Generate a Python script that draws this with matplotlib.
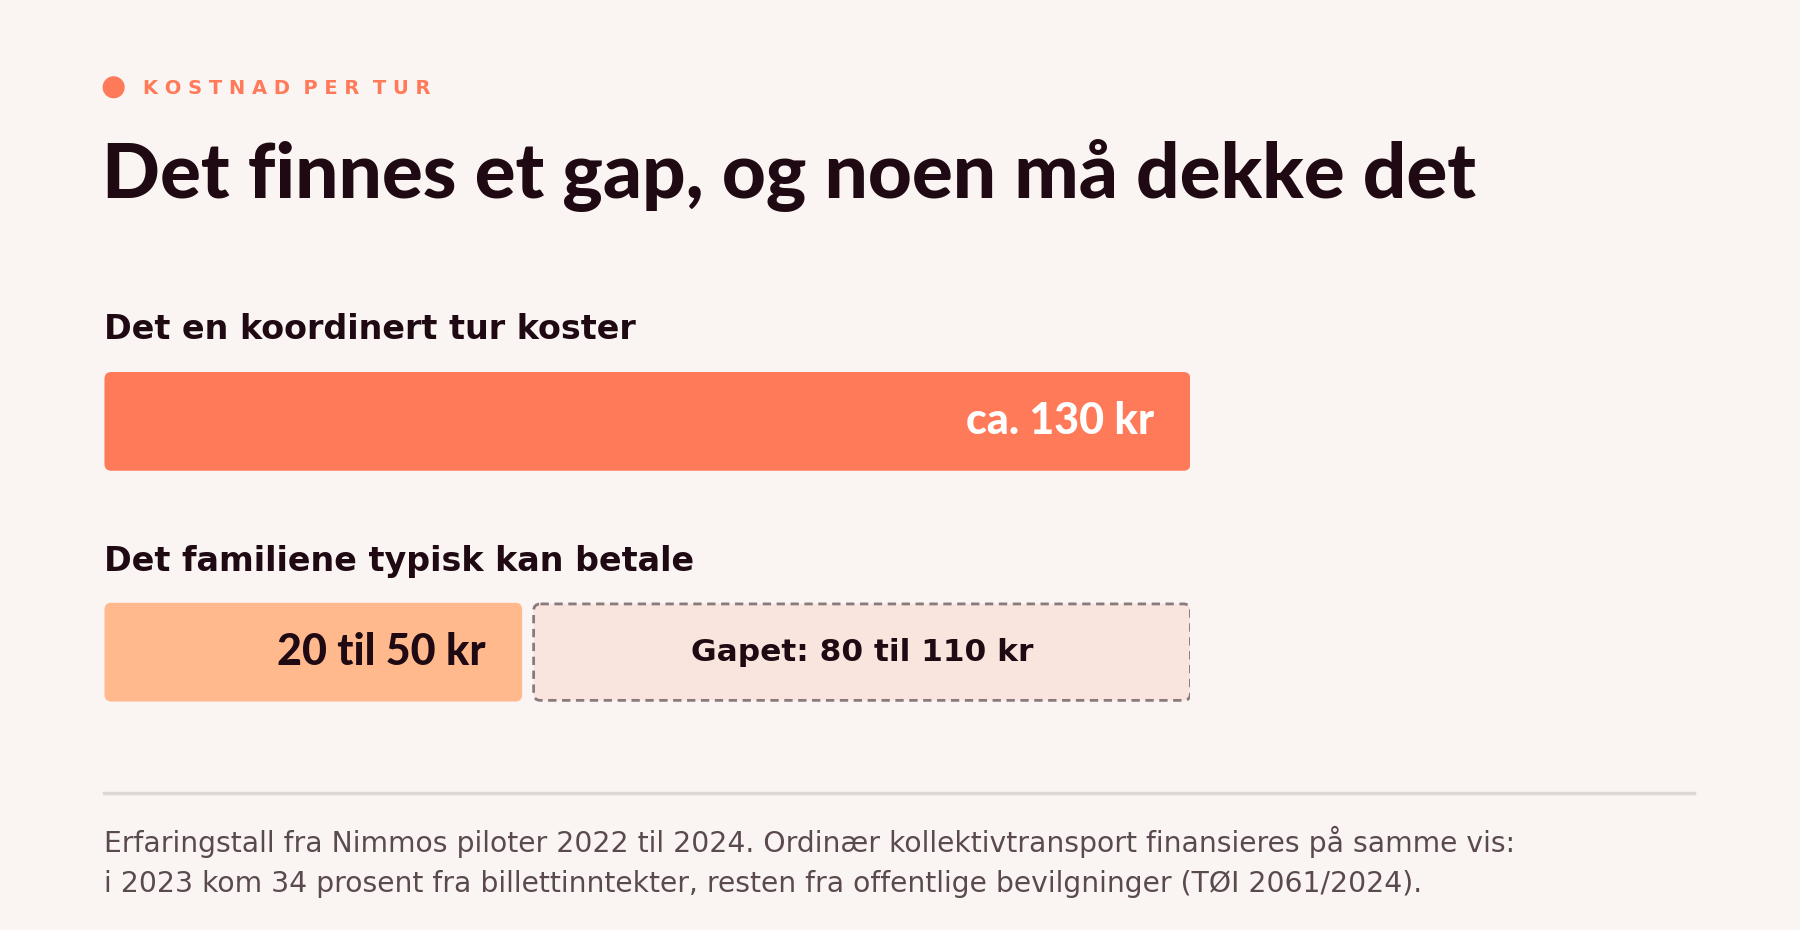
import matplotlib
matplotlib.use("Agg")
import matplotlib.pyplot as plt
from matplotlib.patches import FancyBboxPatch, Circle

kicker = "KOSTNAD PER TUR"
title = "Det finnes et gap, og noen må dekke det"
labels = ["Det en koordinert tur koster", "Det familiene typisk kan betale"]
cost = 130
pay_low, pay_high = 20, 50
gap_low, gap_high = cost - pay_high, cost - pay_low
value_texts = [f"ca. {cost} kr", f"{pay_low} til {pay_high} kr", f"Gapet: {gap_low} til {gap_high} kr"]
footer = ["Erfaringstall fra Nimmos piloter 2022 til 2024. Ordinær kollektivtransport finansieres på samme vis:",
          "i 2023 kom 34 prosent fra billettinntekter, resten fra offentlige bevilgninger (TØI 2061/2024)."]

BG = "#FAF5F2"; DARK = "#1F0A14"; ORANGE = "#FF7A59"; PEACH = "#FFB98C"
W, H = 1568, 810
fig = plt.figure(figsize=(18, 9.3), dpi=100, facecolor=BG)
ax = fig.add_axes([0, 0, 1, 1]); ax.set_xlim(0, W); ax.set_ylim(H, 0); ax.axis("off")

ax.add_patch(Circle((99, 76), 9, color=ORANGE))
ax.text(125, 77, "  ".join(" ".join(w) for w in kicker.split()), color=ORANGE, fontsize=14,
        fontweight="bold", family="DejaVu Sans", va="center", ha="left")
ax.text(89, 153, title, color=DARK, fontsize=55, fontweight="black", family="Lato", va="center", ha="left")
ax.text(91, 287, labels[0], color=DARK, fontsize=24, fontweight="bold", va="center")
ax.text(91, 489, labels[1], color=DARK, fontsize=24, fontweight="bold", va="center")
ax.plot([91, 1476], [691, 691], color="#DDD8D6", lw=2.5)
ax.text(91, 733, footer[0], color="#5A4A50", fontsize=20.3, va="center")
ax.text(91, 770, footer[1], color="#5A4A50", fontsize=20.3, va="center")

# bar axes: x in value units, y in reference pixels
x0, x1 = 91, 1037
bx = fig.add_axes([x0 / W, 1 - 611 / H, (x1 - x0) / W, (611 - 324) / H])
bx.set_xlim(0, cost); bx.set_ylim(611, 324); bx.axis("off")
asp = (x1 - x0) / cost
gap_px = 10 / asp

def box(xa, xb, ya, yb, **kw):
    p = FancyBboxPatch((xa, ya), xb - xa, yb - ya, boxstyle=f"round,pad=0,rounding_size={6/asp}",
                       mutation_aspect=asp, **kw)
    bx.add_patch(p)

box(0, cost, 324, 410, fc=ORANGE, ec="none")
box(0, pay_high, 525, 611, fc=PEACH, ec="none")
box(pay_high + gap_px, cost, 526, 610, fc="#F9E4DE", ec="#8A7A7E", lw=2, ls=(0, (3, 2)))
bx.text(cost - 32 / asp, 367, value_texts[0], color="white", fontsize=31, fontweight="black",
        family="Lato", ha="right", va="center")
bx.text(pay_high - 32 / asp, 568, value_texts[1], color=DARK, fontsize=31, fontweight="black",
        family="Lato", ha="right", va="center")
bx.text((pay_high + gap_px + cost) / 2, 568, value_texts[2], color=DARK, fontsize=22.5,
        fontweight="bold", ha="center", va="center")

fig.savefig("out.png", dpi=100, facecolor=BG)
